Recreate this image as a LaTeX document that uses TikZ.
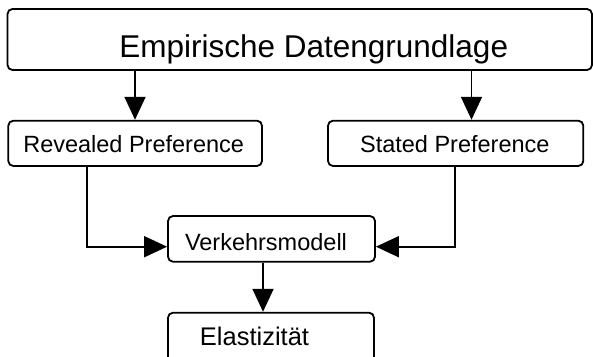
\documentclass[tikz,border=0pt]{standalone}
\usepackage{fontspec}
\setmainfont{Liberation Sans}
\usetikzlibrary{arrows.meta}
\tikzset{
  box/.style={draw, rounded corners=5pt, line width=1.8pt, inner sep=0pt},
  lbl/.style={anchor=base west, inner sep=0pt},
  arr/.style={line width=1.8pt, -{Triangle[length=23pt, width=21pt]}},
}
\begin{document}
\begin{tikzpicture}[x=1pt, y=-1pt]
\useasboundingbox (0,0) rectangle (593,356);
\clip (0,0) rectangle (593,356);
% boxes
\node[box, minimum width=584.5pt, minimum height=61pt] (top) at (299.75,39.5) {};
\node[box, minimum width=253.7pt, minimum height=45.3pt] (rp) at (135.15,143.35) {};
\node[box, minimum width=255.3pt, minimum height=45.3pt] (sp) at (455.65,143.35) {};
\node[box, minimum width=207pt, minimum height=45.7pt] (vm) at (271.5,238.85) {};
\node[box, minimum width=206pt, minimum height=59.3pt] (el) at (271,342.35) {};
% texts
\node[lbl, font=\fontsize{31.5}{36}\selectfont] (toptext) at (119.2,57.3) {Empirische Datengrundlage};
\node[lbl, font=\fontsize{23.5}{28}\selectfont] (rptext) at (23.1,152.7) {Revealed Preference};
\node[lbl, font=\fontsize{23.5}{28}\selectfont] (sptext) at (359.9,152.7) {Stated Preference};
\node[lbl, font=\fontsize{23.5}{28}\selectfont] (vmtext) at (184.8,250) {Verkehrsmodell};
\node[lbl, font=\fontsize{25.5}{30}\selectfont] (eltext) at (199.7,345) {Elastizität};
% connector guide coordinates
\coordinate (ca) at (135,0);
\coordinate (cb) at (471.5,0);
\coordinate (cl) at (87.3,246.7);
\coordinate (cr) at (455,246.7);
\coordinate (cd) at (263,0);
% connectors
\draw[arr] (top.south -| ca) -- (rp.north -| ca);
\draw[arr] (top.south -| cb) -- (sp.north -| cb);
\draw[arr] (rp.south -| cl) -- (cl) -- (vm.west |- cl);
\draw[arr] (sp.south -| cr) -- (cr) -- (vm.east |- cr);
\draw[arr] (vm.south -| cd) -- (el.north -| cd);
\end{tikzpicture}
\end{document}
